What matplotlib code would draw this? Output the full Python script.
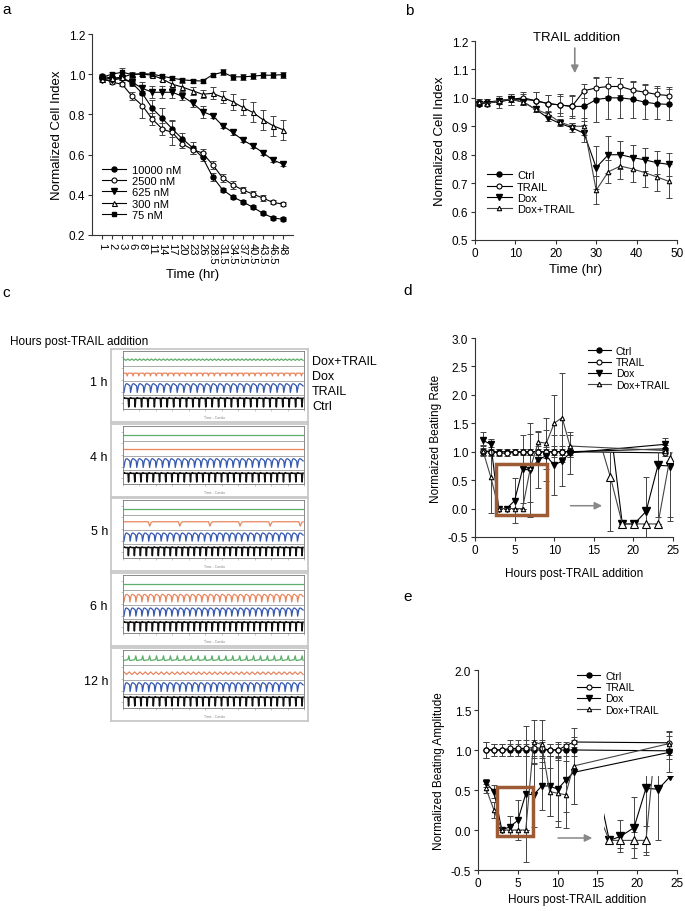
import numpy as np
import matplotlib
matplotlib.use("Agg")
import matplotlib.pyplot as plt
from matplotlib.patches import Rectangle

plt.rcParams['font.family'] = ['Liberation Sans', 'DejaVu Sans']

W, H = 685, 912

# ---- panel a: cell index vs time, doxorubicin doses
a_labels = ["1", "2", "3", "6", "8", "11", "14", "17", "20", "23", "26", "28.5",
            "31.5", "34.5", "37.5", "40.5", "43.5", "46.5", "48"]
a_10000 = [0.99, 0.98, 0.98, 0.955, 0.905, 0.83, 0.78, 0.727, 0.678, 0.635, 0.586, 0.49,
           0.425, 0.39, 0.365, 0.338, 0.308, 0.285, 0.278]
a_2500 = [0.98, 0.96, 0.95, 0.89, 0.844, 0.777, 0.727, 0.71, 0.653, 0.625, 0.608, 0.55,
          0.484, 0.45, 0.424, 0.404, 0.384, 0.362, 0.354]
a_625 = [0.97, 0.97, 0.98, 0.96, 0.93, 0.91, 0.91, 0.91, 0.89, 0.857, 0.814, 0.794,
         0.744, 0.71, 0.673, 0.644, 0.61, 0.573, 0.553]
a_300 = [0.975, 0.98, 0.985, 1.0, 1.0, 0.995, 0.976, 0.95, 0.936, 0.918, 0.9, 0.905,
         0.885, 0.863, 0.835, 0.81, 0.774, 0.744, 0.724]
a_75 = [0.985, 1.0, 1.01, 0.998, 1.003, 1.0, 0.99, 0.98, 0.972, 0.968, 0.966, 0.997,
        1.01, 0.987, 0.987, 0.99, 0.995, 0.995, 0.998]
a_e10000 = [0.01, 0.01, 0.01, 0.01, 0.01, 0.04, 0.05, 0.04, 0.03, 0.03, 0.02, 0.02,
            0.01, 0.01, 0.01, 0.01, 0.01, 0.01, 0.01]
a_e2500 = [0.01, 0.01, 0.01, 0.02, 0.06, 0.03, 0.03, 0.06, 0.02, 0.02, 0.02, 0.02,
           0.02, 0.02, 0.015, 0.015, 0.015, 0.01, 0.01]
a_e625 = [0.01, 0.01, 0.01, 0.02, 0.03, 0.03, 0.03, 0.03, 0.02, 0.02, 0.03, 0.01,
          0.01, 0.01, 0.01, 0.01, 0.01, 0.01, 0.01]
a_e300 = [0.01, 0.01, 0.01, 0.01, 0.01, 0.01, 0.01, 0.02, 0.02, 0.02, 0.02, 0.03,
          0.03, 0.04, 0.04, 0.05, 0.05, 0.05, 0.05]
a_e75 = [0.01, 0.01, 0.02, 0.01, 0.01, 0.01, 0.01, 0.01, 0.01, 0.01, 0.01, 0.01,
         0.015, 0.015, 0.015, 0.015, 0.015, 0.015, 0.015]

# ---- panel b: cell index, TRAIL added at 24 h
b_time = [1, 3, 6, 9, 12, 15, 18, 21, 24, 27, 30, 33, 36, 39, 42, 45, 48]
b_ctrl = [0.98, 0.985, 0.99, 0.995, 0.995, 0.99, 0.98, 0.975, 0.97, 0.97, 0.994, 1.0,
          1.0, 0.995, 0.985, 0.979, 0.977]
b_trail = [0.985, 0.985, 0.985, 0.995, 1.0, 0.99, 0.98, 0.975, 0.97, 1.025, 1.035, 1.04,
           1.04, 1.027, 1.02, 1.012, 1.008]
b_dox = [0.98, 0.98, 0.99, 0.995, 0.985, 0.96, 0.93, 0.91, 0.895, 0.875, 0.755, 0.80,
         0.80, 0.79, 0.782, 0.772, 0.766]
b_doxtrail = [0.985, 0.98, 0.99, 0.995, 0.985, 0.96, 0.943, 0.915, 0.9, 0.9, 0.675, 0.74,
              0.76, 0.75, 0.737, 0.722, 0.706]
b_ectrl = [0.01, 0.01, 0.01, 0.02, 0.02, 0.03, 0.03, 0.04, 0.04, 0.05, 0.08, 0.075,
           0.07, 0.065, 0.06, 0.055, 0.055]
b_etrail = [0.01, 0.01, 0.02, 0.02, 0.02, 0.03, 0.03, 0.03, 0.035, 0.025, 0.035, 0.035,
            0.03, 0.03, 0.03, 0.03, 0.03]
b_edox = [0.01, 0.01, 0.01, 0.01, 0.01, 0.01, 0.01, 0.01, 0.015, 0.03, 0.075, 0.065,
          0.05, 0.045, 0.04, 0.04, 0.04]
b_edoxtrail = [0.01, 0.01, 0.01, 0.01, 0.01, 0.01, 0.01, 0.01, 0.01, 0.03, 0.05, 0.04,
               0.045, 0.045, 0.05, 0.05, 0.06]

# ---- panel c: beating traces (beat shape, beats per window, half height)
c_hours = ["1 h", "4 h", "5 h", "6 h", "12 h"]
c_conditions = ["Dox+TRAIL", "Dox", "TRAIL", "Ctrl"]
c_colors = ["#5DAE6B", "#E8875F", "#3558B0", "#111111"]
beat_shapes = {
    "spike_down": [0.8, 0.9, 0.8, 0.75, 0.75, 0.75, 0.75, 0.75, 0.75, -1.0, 0.6, 0.8],
    "arch": [-1.0, -0.2, 0.5, 0.85, 1.0, 1.0, 0.95, 0.85, 0.75, 0.6, 0.5],
    "small_dip": [0.6, 0.6, 0.6, 0.55, -1.0, 0.5, 0.6],
    "zigzag": [1.0, -1.0],
    "flat": [0.0, 0.0],
    "rare_dip": [0.5, 0.5, 0.5, 0.5, 0.5, 0.5, 0.5, 0.5, 0.5, 0.5, 0.5, 0.5, 0.5, 0.5,
                 0.5, 0.5, 0.5, 0.5, -1.0, 0.2, 0.5],
    "spike_up": [-0.6, -0.5, -0.45, -0.4, -0.35, 1.0, -0.6],
}
c_traces = {
    "1 h": [("zigzag", 46, 0.012), ("small_dip", 31, 0.03), ("arch", 27, 0.075), ("spike_down", 28, 0.085)],
    "4 h": [("flat", 1, 0.0), ("flat", 1, 0.0), ("arch", 28, 0.075), ("spike_down", 29, 0.085)],
    "5 h": [("flat", 1, 0.0), ("rare_dip", 6, 0.05), ("arch", 29, 0.07), ("spike_down", 30, 0.08)],
    "6 h": [("flat", 1, 0.0), ("arch", 30, 0.065), ("arch", 30, 0.07), ("spike_down", 30, 0.085)],
    "12 h": [("spike_up", 26, 0.05), ("zigzag", 34, 0.022), ("arch", 29, 0.075), ("spike_down", 29, 0.085)],
}

# ---- panel d: beating rate
d_hours = [1, 2, 3, 4, 5, 6, 7, 8, 9, 10, 11, 12, 24]
d_ctrl = [1.0, 1.0, 1.0, 1.0, 1.0, 1.0, 1.0, 1.0, 1.0, 1.0, 1.0, 1.0, 1.05]
d_trail = [1.02, 1.0, 0.98, 0.97, 0.99, 0.99, 1.0, 1.0, 0.99, 1.0, 1.0, 1.0, 0.98]
d_dox = [1.2, 1.13, 0.0, 0.0, 0.14, 0.69, 0.68, 0.86, 0.93, 0.76, 0.84, 0.98, 1.13]
d_doxtrail = [1.02, 0.55, 0.0, 0.0, 0.0, 0.0, 0.72, 1.17, 1.15, 1.5, 1.6, 1.1, 1.02]
d_ectrl = [0.06, 0.05, 0.05, 0.04, 0.04, 0.04, 0.05, 0.05, 0.05, 0.05, 0.05, 0.05, 0.06]
d_etrail = [0.1, 0.08, 0.06, 0.05, 0.05, 0.05, 0.05, 0.1, 0.1, 0.1, 0.1, 0.1, 0.05]
d_edox = [0.15, 0.1, 0.0, 0.0, 0.4, 0.6, 0.82, 0.5, 0.45, 0.53, 0.45, 0.37, 0.12]
d_edoxtrail = [0.08, 0.63, 0.0, 0.0, 0.0, 0.0, 0.6, 0.18, 0.45, 0.5, 0.78, 0.2, 0.05]
# magnified view of the boxed region (drawn in the lower right)
dz_x = [15.6, 17.1, 18.6, 20.1, 21.6, 23.1, 24.6, 26.1]
dz_dox = [1.53, 1.43, -0.27, -0.27, -0.05, 0.76, 0.75, 1.02]
dz_doxtrail = [1.26, 0.55, -0.27, -0.27, -0.27, -0.27, 0.88, 1.49]
dz_edox = [0.0, 0.0, 0.0, 0.0, 0.6, 0.9, 0.9, 0.0]
dz_edoxtrail = [0.0, 0.95, 0.0, 0.0, 0.0, 0.0, 1.1, 0.0]

# ---- panel e: beating amplitude
e_hours = [1, 2, 3, 4, 5, 6, 7, 8, 9, 10, 11, 12, 24]
e_ctrl = [1.0, 1.0, 1.0, 1.0, 1.0, 1.0, 1.0, 1.0, 1.0, 1.0, 1.0, 1.0, 0.99]
e_trail = [1.0, 1.0, 1.0, 1.02, 1.02, 1.02, 1.03, 1.02, 1.0, 1.0, 1.05, 1.1, 1.09]
e_dox = [0.59, 0.48, 0.0, 0.04, 0.12, 0.45, 0.44, 0.55, 0.55, 0.51, 0.62, 0.72, 0.97]
e_doxtrail = [0.52, 0.25, 0.0, 0.0, 0.0, 0.0, 1.1, 1.07, 0.48, 0.46, 0.44, 0.8, 1.08]
e_ectrl = [0.1, 0.08, 0.08, 0.08, 0.08, 0.08, 0.1, 0.1, 0.08, 0.08, 0.08, 0.08, 0.1]
e_etrail = [0.1, 0.08, 0.08, 0.1, 0.1, 0.1, 0.1, 0.1, 0.08, 0.1, 0.05, 0.06, 0.15]
e_edox = [0.05, 0.08, 0.0, 0.13, 0.25, 0.85, 0.4, 0.3, 0.38, 0.4, 0.4, 0.4, 0.25]
e_edoxtrail = [0.06, 0.1, 0.0, 0.0, 0.0, 0.0, 0.27, 0.3, 0.3, 0.42, 0.42, 0.47, 0.1]
ez_x = [15.0, 16.5, 17.9, 19.6, 21.1, 22.65, 24.15]
ez_dox = [0.57, -0.13, -0.08, 0.03, 0.52, 0.51, 0.67]
ez_doxtrail = [0.23, -0.13, -0.13, -0.13, -0.13, 1.47, 1.42]
ez_edox = [0.0, 0.05, 0.2, 0.38, 0.8, 0.63, 0.0]
ez_edoxtrail = [0.0, 0.05, 0.1, 0.1, 0.18, 0.0, 0.0]

STY = {
    "Ctrl": dict(marker="o", mfc="k", mec="k", ms=3.6),
    "TRAIL": dict(marker="o", mfc="white", mec="k", ms=3.6, mew=0.8),
    "Dox": dict(marker="v", mfc="k", mec="k", ms=4.0),
    "Dox+TRAIL": dict(marker="^", mfc="white", mec="k", ms=3.6, mew=0.8),
}


def add_ax(fig, x0, y0, x1, y1):
    return fig.add_axes([x0 / W, 1 - y1 / H, (x1 - x0) / W, (y1 - y0) / H])


def style(ax, fs=8.5):
    for s in ("top", "right"):
        ax.spines[s].set_visible(False)
    for s in ("left", "bottom"):
        ax.spines[s].set_color("#333")
        ax.spines[s].set_linewidth(0.8)
    ax.tick_params(direction="out", length=3, width=0.8, color="#333", labelsize=fs, pad=2)


def draw(ax, x, y, err, label, sty, color="k", lw=0.8, ms=None):
    ax.errorbar(x, y, yerr=err, fmt="none", ecolor="#444", elinewidth=0.7,
                capsize=2, capthick=0.7, zorder=2)
    kw = dict(sty)
    if ms is not None:
        kw["ms"] = ms
    ax.plot(x, y, color=color, lw=lw, label=label, zorder=3, **kw)


def legend(ax, x, y, fs=8):
    ax.legend(loc="upper left", bbox_to_anchor=(x, y), frameon=False, fontsize=fs,
              borderpad=0, borderaxespad=0, handlelength=2.2, handletextpad=0.5,
              labelspacing=0.12)


fig = plt.figure(figsize=(W / 100, H / 100), dpi=100)

# ================= a
ax = add_ax(fig, 92, 35, 293, 236)
style(ax)
xa = np.arange(len(a_labels))
draw(ax, xa, a_10000, a_e10000, "10000 nM", STY["Ctrl"])
draw(ax, xa, a_2500, a_e2500, "2500 nM", STY["TRAIL"])
draw(ax, xa, a_625, a_e625, "625 nM", STY["Dox"])
draw(ax, xa, a_300, a_e300, "300 nM", STY["Dox+TRAIL"])
draw(ax, xa, a_75, a_e75, "75 nM", dict(marker="s", mfc="k", mec="k", ms=3.3))
ax.set_xlim(-1, 19)
ax.set_ylim(0.2, 1.2)
ax.set_yticks([0.2, 0.4, 0.6, 0.8, 1.0, 1.2])
ax.set_yticklabels(["0.2", "0.4", "0.6", "0.8", "1.0", "1.2"])
ax.set_xticks(xa)
ax.set_xticklabels(a_labels, rotation=270, fontsize=8)
ax.set_xlabel("Time (hr)", fontsize=9.5, labelpad=3)
ax.set_ylabel("Normalized Cell Index", fontsize=9.5, labelpad=4)
legend(ax, 0.05, 0.35)
fig.text(2 / W, 1 - 3 / H, "a", fontsize=11, va="top")

# ================= b
ax = add_ax(fig, 475, 42, 677, 241)
style(ax)
draw(ax, b_time, b_ctrl, b_ectrl, "Ctrl", STY["Ctrl"])
draw(ax, b_time, b_trail, b_etrail, "TRAIL", STY["TRAIL"])
draw(ax, b_time, b_dox, b_edox, "Dox", STY["Dox"])
draw(ax, b_time, b_doxtrail, b_edoxtrail, "Dox+TRAIL", STY["Dox+TRAIL"], color="#444", ms=3.2)
ax.set_xlim(0, 50)
ax.set_ylim(0.5, 1.2)
ax.set_xticks(np.arange(0, 51, 10))
ax.set_yticks(np.arange(0.5, 1.21, 0.1))
ax.set_yticklabels([f"{v:.1f}" for v in np.arange(0.5, 1.21, 0.1)])
ax.set_xlabel("Time (hr)", fontsize=9.5, labelpad=3)
ax.set_ylabel("Normalized Cell Index", fontsize=9.5, labelpad=4)
legend(ax, 0.06, 0.35)
ax.annotate("", xy=(24.7, 1.077), xytext=(24.7, 1.185), annotation_clip=False,
            arrowprops=dict(arrowstyle="-|>", color="#888", lw=1.2, mutation_scale=11))
ax.text(25.2, 1.214, "TRAIL addition", ha="center", va="center", fontsize=9.5,
        clip_on=False)
fig.text(405 / W, 1 - 4 / H, "b", fontsize=11, va="top")

# ================= c
fig.text(2 / W, 1 - 286 / H, "c", fontsize=11, va="top")
fig.text(10 / W, 1 - 342 / H, "Hours post-TRAIL addition", fontsize=8.5, va="center")
box_tops = [350, 425, 499, 574, 649]
centers = [0.85, 0.60, 0.36, 0.12]
for hour, top in zip(c_hours, box_tops):
    outer = add_ax(fig, 111, top, 308, top + 73)
    outer.set_xticks([])
    outer.set_yticks([])
    for s in outer.spines.values():
        s.set_color("#c8c8c8")
        s.set_linewidth(1.3)
    inner = add_ax(fig, 123, top + 2, 304, top + 60)
    inner.set_xlim(0, 1)
    inner.set_ylim(0, 1)
    for s in inner.spines.values():
        s.set_color("#777")
        s.set_linewidth(0.6)
    inner.set_xticks(np.linspace(0, 1, 12))
    inner.set_yticks([0.1, 0.3, 0.5, 0.7, 0.9])
    inner.tick_params(length=1.2, width=0.4, color="#999", labelbottom=False, labelleft=False)
    for sep in (0.74, 0.49, 0.245):
        inner.axhline(sep, color="#888", lw=0.5)
    for (shape, beats, half), c0, col in zip(c_traces[hour], centers, c_colors):
        yy = c0 + half * np.tile(beat_shapes[shape], beats)
        xx = np.linspace(0.005, 0.995, len(yy))
        inner.plot(xx, yy, color=col, lw=1.1 if col == "#111111" else 0.9)
    fig.text(108 / W, 1 - (top + 33) / H, hour, fontsize=9, ha="right", va="center")
    fig.text(215 / W, 1 - (top + 68) / H, "Time - Cardio", fontsize=2.5, ha="center",
             va="center", color="#888")

for name, ypx in zip(c_conditions, [362, 377, 392, 407]):
    fig.text(312 / W, 1 - ypx / H, name, fontsize=9, va="center")

# ================= d
ax = add_ax(fig, 475, 339, 673, 538)
style(ax)
draw(ax, d_hours, d_ctrl, d_ectrl, "Ctrl", STY["Ctrl"])
draw(ax, d_hours, d_trail, d_etrail, "TRAIL", STY["TRAIL"])
draw(ax, d_hours, d_dox, d_edox, "Dox", STY["Dox"])
draw(ax, d_hours, d_doxtrail, d_edoxtrail, "Dox+TRAIL", STY["Dox+TRAIL"], color="#444", ms=3.2)
ax.set_xlim(0, 25)
ax.set_ylim(-0.5, 3.0)
ax.set_xticks(np.arange(0, 26, 5))
ax.set_yticks(np.arange(-0.5, 3.01, 0.5))
ax.set_yticklabels([f"{v:.1f}" for v in np.arange(-0.5, 3.01, 0.5)])
ax.set_xlabel("Hours post-TRAIL addition", fontsize=8.5, labelpad=8)
ax.set_ylabel("Normaized Beating Rate", fontsize=8.5, labelpad=4)
legend(ax, 0.57, 0.96, fs=7.5)
ax.add_patch(Rectangle((2.6, -0.105), 6.45, 0.89, fill=False, ec="#9C5B34", lw=2.5, zorder=5))
ax.annotate("", xy=(16.4, 0.05), xytext=(11.7, 0.05),
            arrowprops=dict(arrowstyle="-|>", color="#888", lw=1.1, mutation_scale=11))
zd = ax.inset_axes([16.0, -0.5, 9.0, 1.5], transform=ax.transData)
zd.set_xlim(16.0, 25.0)
zd.set_ylim(-0.5, 1.0)
zd.axis("off")
zd.patch.set_alpha(0)
draw(zd, dz_x, dz_dox, dz_edox, None, STY["Dox"], ms=5.5)
draw(zd, dz_x, dz_doxtrail, dz_edoxtrail, None, STY["Dox+TRAIL"], color="#444", ms=5.5)
fig.text(403 / W, 1 - 284 / H, "d", fontsize=11, va="top")

# ================= e
ax = add_ax(fig, 478, 671, 677, 871)
style(ax)
draw(ax, e_hours, e_ctrl, e_ectrl, "Ctrl", STY["Ctrl"])
draw(ax, e_hours, e_trail, e_etrail, "TRAIL", STY["TRAIL"])
draw(ax, e_hours, e_dox, e_edox, "Dox", STY["Dox"])
draw(ax, e_hours, e_doxtrail, e_edoxtrail, "Dox+TRAIL", STY["Dox+TRAIL"], color="#444", ms=3.2)
ax.set_xlim(0, 25)
ax.set_ylim(-0.5, 2.0)
ax.set_xticks(np.arange(0, 26, 5))
ax.set_yticks(np.arange(-0.5, 2.01, 0.5))
ax.set_yticklabels([f"{v:.1f}" for v in np.arange(-0.5, 2.01, 0.5)])
ax.set_xlabel("Hours post-TRAIL addition", fontsize=8.5, labelpad=3)
ax.set_ylabel("Normalized Beating Amplitude", fontsize=8.5, labelpad=4)
legend(ax, 0.50, 0.995, fs=7.5)
ax.add_patch(Rectangle((2.35, -0.08), 4.6, 0.62, fill=False, ec="#9C5B34", lw=2.5, zorder=5))
ax.annotate("", xy=(14.7, -0.1), xytext=(9.7, -0.1),
            arrowprops=dict(arrowstyle="-|>", color="#888", lw=1.1, mutation_scale=11))
ze = ax.inset_axes([15.8, -0.5, 9.2, 1.17], transform=ax.transData)
ze.set_xlim(15.8, 25.0)
ze.set_ylim(-0.5, 0.67)
ze.axis("off")
ze.patch.set_alpha(0)
draw(ze, ez_x, ez_dox, ez_edox, None, STY["Dox"], ms=5.5)
draw(ze, ez_x, ez_doxtrail, ez_edoxtrail, None, STY["Dox+TRAIL"], color="#444", ms=5.5)
fig.text(403 / W, 1 - 590 / H, "e", fontsize=11, va="top")

fig.savefig("out.png", dpi=100)
